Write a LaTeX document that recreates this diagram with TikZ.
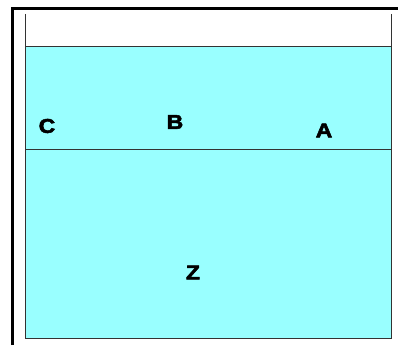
\documentclass[tikz,border=0pt]{standalone}
\usepackage{fontspec}
\setmainfont{Liberation Sans}
\newfontfamily\heavyfont{Liberation Sans Bold}[FakeBold=2.5]
\usetikzlibrary{positioning}
\tikzset{
    frameline/.style = {line width=3pt,black},
    wallline/.style = {line width=1pt,black!80},
    water/.style = {fill={rgb,255:red,153;green,255;blue,255},draw=black!80,line width=1pt},
    levelline/.style = {line width=0.8pt,black!80},
    letter/.style = {font=\fontsize{20}{20}\heavyfont,text=black,inner sep=0pt,xscale=1.15}
}
\begin{document}
\begin{tikzpicture}[x=1pt,y=-1pt]
  \useasboundingbox (0,0) rectangle (398,345);
  % outer frame
  \draw[frameline] (12.5,345) -- (12.5,8.5) -- (398,8.5);
  % tank with water
  \draw[water] (25,47) rectangle (391,338);
  \draw[wallline] (25,14) -- (25,47);
  \draw[wallline] (391,14) -- (391,47);
  \coordinate (lvlL) at (25,149);
  \coordinate (lvlR) at (391,149);
  \draw[levelline] (lvlL) -- (lvlR);
  % points
  \node[letter] (C) at (47,126) {C};
  \node[letter] (B) at (175,122) {B};
  \node[letter] (A) at (324,130.5) {A};
  \node[letter] (Z) at (193,272.5) {Z};
\end{tikzpicture}
\end{document}
